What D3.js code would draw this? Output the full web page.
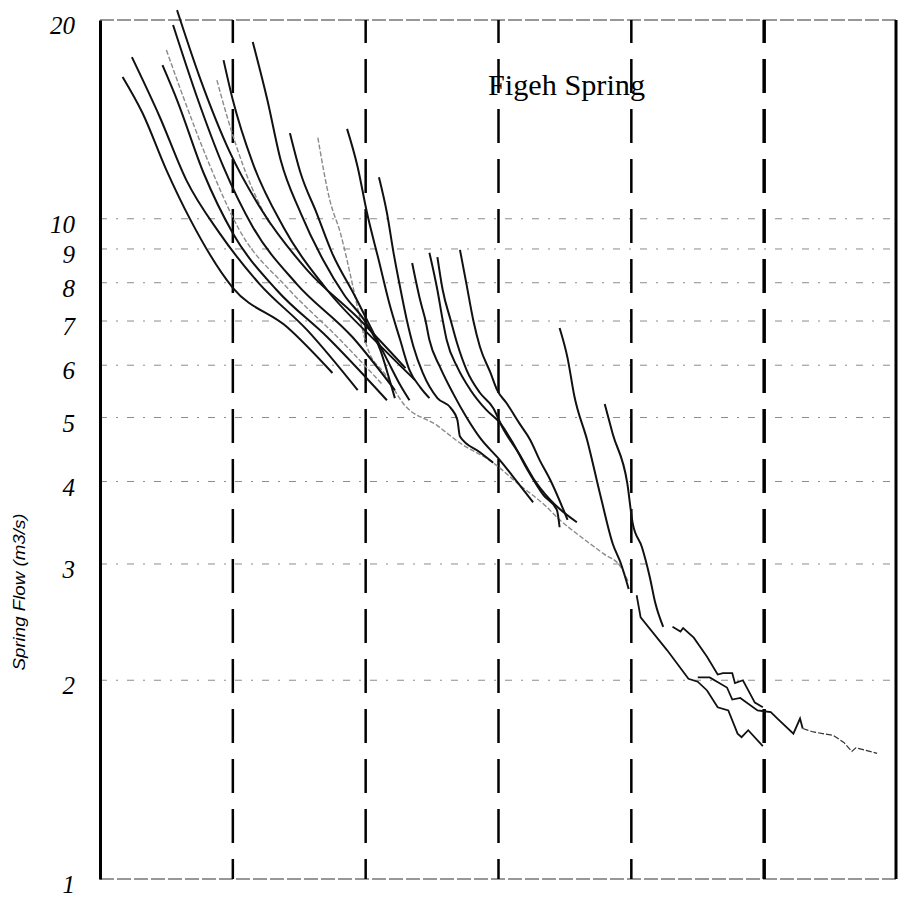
<!DOCTYPE html>
<html>
<head>
<meta charset="utf-8">
<script src="https://cdn.jsdelivr.net/npm/d3@7"></script>
<style>
  body { margin: 0; background: #fff; }
  svg { display: block; }
</style>
</head>
<body>
<div id="chart"></div>
<script>
// axis values (log scale, flow in m3/s)
const yTicks = [1, 2, 3, 4, 5, 6, 7, 8, 9, 10, 20];
const yGrid = [2, 3, 4, 5, 6, 7, 8, 9, 10];
const xDashed = [1, 2, 3, 4, 5];

// recession curves as [time, flow]
const c1 = [[0.17, 16.4], [0.32, 14.46], [0.50, 11.85], [0.68, 9.97], [1.00, 7.86], [1.41, 6.85], [1.75, 5.84]];
const c2 = [[0.24, 17.57], [0.45, 14.26], [0.65, 11.44], [0.90, 9.51], [1.20, 7.97], [1.56, 6.78], [1.94, 5.50]];
const c3 = [[0.47, 17.09], [0.58, 15.13], [0.78, 11.73], [1.00, 9.51], [1.33, 7.80], [1.71, 6.62], [2.16, 5.31]];
const c4 = [[0.50, 18.01], [0.60, 15.82], [0.81, 12.27], [1.05, 9.61], [1.41, 7.86], [1.81, 6.55], [2.13, 5.60]];
const c5 = [[0.55, 19.65], [0.73, 15.29], [0.93, 11.97], [1.15, 9.72], [1.48, 7.97], [1.90, 6.62], [2.22, 5.50]];
const c6 = [[0.58, 20.7], [0.75, 16.39], [0.98, 12.58], [1.23, 10.21], [1.56, 8.36], [1.96, 7.02], [2.30, 5.94]];
const c7 = [[0.88, 16.22], [0.96, 14.21], [1.09, 11.85], [1.28, 9.79]];
const c8 = [[0.93, 17.39], [1.00, 15.13], [1.15, 12.14], [1.38, 9.72], [1.71, 7.80], [2.09, 6.48], [2.37, 5.70]];
const c9 = [[1.15, 18.52], [1.26, 15.13], [1.36, 12.27], [1.51, 10.21], [1.68, 8.66], [1.84, 7.66], [2.00, 6.97], [2.11, 6.33], [2.18, 5.70], [2.22, 5.35]];
const c10 = [[1.43, 13.48], [1.51, 11.73], [1.63, 10.21], [1.75, 8.85], [1.91, 7.70], [2.06, 6.71], [2.17, 6.07], [2.26, 5.60], [2.33, 5.31]];
const c12 = [[1.86, 13.68], [1.94, 11.97], [2.01, 10.21], [2.10, 8.63], [2.18, 7.42], [2.26, 6.55], [2.33, 5.90], [2.41, 5.56], [2.48, 5.35]];
const c13 = [[2.10, 11.56], [2.16, 10.21], [2.21, 8.88], [2.26, 7.86], [2.31, 7.02], [2.36, 6.40], [2.43, 5.84], [2.54, 5.35], [2.64, 5.17], [2.69, 4.96], [2.71, 4.68], [2.86, 4.43], [2.96, 4.27]];
const c14 = [[2.35, 8.57], [2.41, 7.53], [2.45, 7.02], [2.48, 6.55], [2.56, 5.96], [2.66, 5.43], [2.76, 5.00], [2.86, 4.66], [3.01, 4.31], [3.13, 4.02], [3.26, 3.72]];
const c15 = [[2.48, 8.88], [2.54, 7.80], [2.58, 7.02], [2.61, 6.55], [2.69, 5.96], [2.79, 5.50], [2.91, 5.13], [3.01, 4.91], [3.11, 4.57], [3.22, 4.16], [3.34, 3.81], [3.44, 3.62], [3.46, 3.41]];
const c16 = [[2.54, 8.75], [2.58, 7.80], [2.64, 7.02], [2.69, 6.46], [2.76, 5.90], [2.86, 5.45], [2.96, 5.17], [3.03, 4.83], [3.16, 4.39], [3.26, 4.05], [3.39, 3.75], [3.59, 3.47]];
const c17 = [[2.71, 8.97], [2.76, 7.94], [2.81, 7.02], [2.86, 6.40], [2.94, 5.84], [2.99, 5.50], [3.06, 5.26], [3.16, 4.89], [3.24, 4.62], [3.31, 4.31], [3.39, 4.02], [3.52, 3.50]];
const c18 = [[3.46, 6.83], [3.52, 6.15], [3.57, 5.40], [3.67, 4.60], [3.77, 3.79], [3.86, 3.22], [3.92, 3.01], [3.98, 2.75]];
const c18b = [[4.04, 2.69], [4.07, 2.49], [4.27, 2.22], [4.43, 2.01], [4.50, 1.99], [4.57, 1.93], [4.65, 1.82], [4.73, 1.80], [4.80, 1.66], [4.83, 1.64], [4.88, 1.68], [4.99, 1.59]];
const c19 = [[3.80, 5.24], [3.86, 4.72], [3.97, 3.97], [4.01, 3.46], [4.08, 3.18], [4.14, 2.86], [4.18, 2.62], [4.24, 2.41]];
const c19b = [[4.31, 2.41], [4.37, 2.37], [4.39, 2.40], [4.47, 2.32], [4.57, 2.17], [4.65, 2.04], [4.69, 2.05], [4.76, 2.05], [4.78, 1.98], [4.84, 2.00], [4.93, 1.85], [4.99, 1.82]];
const c20 = [[4.50, 2.02], [4.59, 2.02], [4.72, 1.95], [4.76, 1.87], [4.82, 1.88], [4.95, 1.80], [5.05, 1.79], [5.10, 1.75], [5.22, 1.66], [5.27, 1.75], [5.29, 1.69]];
const tail = [[5.29, 1.69], [5.37, 1.67], [5.52, 1.65], [5.60, 1.61], [5.66, 1.56], [5.69, 1.58], [5.85, 1.55]];
// lower envelope (master recession), drawn light
const envelope = [[1.64, 13.27], [1.73, 10.67], [1.81, 9.51], [1.91, 7.80], [1.96, 7.02], [2.01, 6.40], [2.15, 5.80], [2.28, 5.26], [2.54, 4.86], [2.70, 4.59], [2.96, 4.27], [3.16, 3.95], [3.35, 3.68], [3.46, 3.50], [3.61, 3.31], [3.79, 3.11], [3.92, 2.97], [3.98, 2.81]];

const smoothCurves = [c1, c2, c3, c5, c6, c8, c9, c10, c12, c13, c14, c15, c16, c17, c18, c19];
const roughCurves = [c18b, c19b, c20];
const lightCurves = [c4, c7, envelope];

const width = 908,
    height = 901,
    margin = ({ top: 20, right: 11, bottom: 22, left: 100 });

const svg = d3.select("#chart")
    .append("svg")
    .attr("width", width)
    .attr("height", height);

let x = d3.scaleLinear()
    .domain([0, 6])
    .range([margin.left, width - margin.right]);

let y = d3.scaleLog()
    .domain([1, 20])
    .range([height - margin.bottom, margin.top]);

// faint dotted horizontal grid
svg.append("g")
    .selectAll("line")
    .data(yGrid)
    .join("line")
    .attr("x1", x(0))
    .attr("x2", x(6))
    .attr("y1", d => y(d))
    .attr("y2", d => y(d))
    .attr("stroke", "#8c8c8c")
    .attr("stroke-width", 1)
    .attr("stroke-dasharray", "7,9,2,9");

// top and bottom frame, grey dashed
svg.append("g")
    .selectAll("line")
    .data([1, 20])
    .join("line")
    .attr("x1", x(0))
    .attr("x2", x(6))
    .attr("y1", d => y(d))
    .attr("y2", d => y(d))
    .attr("stroke", "#777")
    .attr("stroke-width", 1.5)
    .attr("stroke-dasharray", "14,3");

// heavy dashed verticals
svg.append("g")
    .selectAll("line")
    .data(xDashed)
    .join("line")
    .attr("x1", d => x(d))
    .attr("x2", d => x(d))
    .attr("y1", y(20))
    .attr("y2", y(1))
    .attr("stroke", "#000")
    .attr("stroke-width", d => d === 5 ? 3.5 : 2.5)
    .attr("stroke-dasharray", "34,16")
    .attr("stroke-dashoffset", 11);

// right border
svg.append("line")
    .attr("x1", x(6) - 1)
    .attr("x2", x(6) - 1)
    .attr("y1", y(20))
    .attr("y2", y(1))
    .attr("stroke", "#000")
    .attr("stroke-width", 3);

// left axis
const yAxis = svg.append("g")
    .attr("transform", `translate(${margin.left},0)`)
    .call(d3.axisLeft(y)
        .tickValues(yTicks)
        .tickSize(0)
        .tickPadding(25)
        .tickFormat(d3.format("d"))
    );

yAxis.select(".domain")
    .attr("stroke", "#000")
    .attr("stroke-width", 3);

yAxis.selectAll("text")
    .attr("dy", "0.55em")
    .attr("fill", "#000")
    .style("font-family", "'Liberation Serif', 'DejaVu Serif', serif")
    .style("font-style", "italic")
    .style("font-size", "25px");

// axis title
svg.append("text")
    .attr("transform", "translate(25,592) rotate(-90)")
    .attr("text-anchor", "middle")
    .attr("textLength", 157)
    .attr("lengthAdjust", "spacingAndGlyphs")
    .style("font-family", "'Liberation Sans', Arial, sans-serif")
    .style("font-style", "italic")
    .style("font-size", "17px")
    .text("Spring Flow (m3/s)");

// chart title
svg.append("text")
    .attr("x", 488)
    .attr("y", 95)
    .attr("textLength", 157)
    .attr("lengthAdjust", "spacingAndGlyphs")
    .style("font-family", "'Liberation Serif', 'Times New Roman', serif")
    .style("font-size", "29px")
    .text("Figeh Spring");

let smooth = d3.line()
    .x(d => x(d[0]))
    .y(d => y(d[1]))
    .curve(d3.curveMonotoneX);

let rough = d3.line()
    .x(d => x(d[0]))
    .y(d => y(d[1]));

// light curves first so the dark ones sit on top
for (let c of lightCurves) {
    svg.append("path")
        .datum(c)
        .attr("fill", "none")
        .attr("stroke", "#8a8a8a")
        .attr("stroke-width", 1.4)
        .attr("stroke-dasharray", "5,2")
        .attr("d", smooth);
}

for (let c of smoothCurves) {
    svg.append("path")
        .datum(c)
        .attr("fill", "none")
        .attr("stroke", "#111")
        .attr("stroke-width", 2)
        .attr("d", smooth);
}

for (let c of roughCurves) {
    svg.append("path")
        .datum(c)
        .attr("fill", "none")
        .attr("stroke", "#111")
        .attr("stroke-width", 1.8)
        .attr("d", rough);
}

svg.append("path")
    .datum(tail)
    .attr("fill", "none")
    .attr("stroke", "#333")
    .attr("stroke-width", 1.2)
    .attr("stroke-dasharray", "6,2")
    .attr("d", rough);
</script>
</body>
</html>
